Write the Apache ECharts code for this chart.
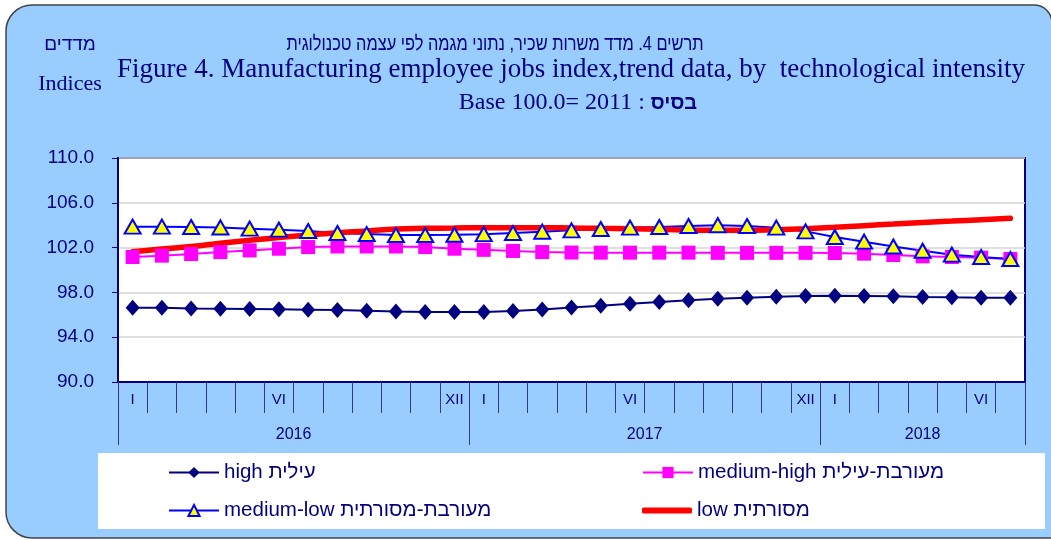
<!DOCTYPE html>
<html>
<head>
<meta charset="utf-8">
<script src="https://cdn.jsdelivr.net/npm/echarts@6/dist/echarts.min.js"></script>
<style>
  html, body { margin: 0; padding: 0; background: #fff; }
  #chart { width: 1051px; height: 540px; }
</style>
</head>
<body>
<div id="chart"></div>
<script>
// months Jan 2016 .. Jul 2018
const years = ['2016', '2017', '2018']
const monthsPerYear = [12, 12, 7]
const romans = ['I', 'II', 'III', 'IV', 'V', 'VI', 'VII', 'VIII', 'IX', 'X', 'XI', 'XII']
const shownMonths = ['I', 'VI', 'XII']
const yTicks = [90, 94, 98, 102, 106, 110]

const high = [96.63, 96.62, 96.56, 96.54, 96.52, 96.49, 96.46, 96.43, 96.37, 96.3, 96.26,
	96.25, 96.26, 96.33, 96.48, 96.66, 96.81, 96.99, 97.14, 97.29, 97.43, 97.53, 97.62,
	97.68, 97.7, 97.68, 97.65, 97.6, 97.56, 97.53, 97.53]
const mediumHigh = [101.16, 101.28, 101.43, 101.6, 101.75, 101.9, 102.05, 102.1, 102.1, 102.1,
	102.05, 101.9, 101.8, 101.7, 101.6, 101.56, 101.55, 101.55, 101.55, 101.55, 101.53, 101.53,
	101.53, 101.53, 101.52, 101.46, 101.34, 101.22, 101.16, 101.1, 100.98]
const mediumLow = [103.87, 103.87, 103.84, 103.8, 103.69, 103.6, 103.48, 103.3, 103.21, 103.12,
	103.12, 103.15, 103.2, 103.3, 103.42, 103.54, 103.66, 103.78, 103.84, 103.93, 104.0, 103.93,
	103.78, 103.45, 102.95, 102.53, 102.1, 101.72, 101.37, 101.16, 100.98]
const low = [101.63, 101.87, 102.1, 102.38, 102.65, 102.91, 103.12, 103.33, 103.48, 103.66,
	103.72, 103.75, 103.78, 103.78, 103.78, 103.75, 103.72, 103.69, 103.63, 103.57, 103.54,
	103.54, 103.6, 103.69, 103.81, 103.96, 104.1, 104.25, 104.37, 104.49, 104.61]

const seriesNames = ['high עילית', 'medium-high מעורבת-עילית', 'medium-low מעורבת-מסורתית', 'low מסורתית']

// category list + where the year blocks start/end
const categories = []
const yearBounds = [0]
years.forEach((y, yi) => {
	for (let m = 0; m < monthsPerYear[yi]; m++) categories.push(y + '-' + romans[m])
	yearBounds.push(categories.length)
})
const yearCenters = years.map((y, i) => (yearBounds[i] + yearBounds[i + 1]) / 2)

const navy = '#000080'
const cellLine = '#333399'
const serif = '"Liberation Serif", "DejaVu Serif", serif'
const sans = '"Liberation Sans", Arial, sans-serif'

const legendText = { color: navy, fontSize: 20.5, fontFamily: sans }
const legendAt = (name, left, top, extra) => Object.assign({
	data: [name], left, top, padding: 0, itemWidth: 50, itemHeight: 14,
	itemGap: 0, textStyle: legendText, selectedMode: false
}, extra)

const headText = (text, x, y, size, family, scaleX) => ({
	type: 'text', x, y, scaleX: scaleX || 1, silent: true,
	style: { text, fill: navy, font: size + 'px ' + (family || serif), align: 'center', verticalAlign: 'middle' }
})

const options = {
	animation: false,
	graphic: [
		{
			type: 'rect', z: -10, silent: true,
			shape: { x: 6, y: 5, width: 1046, height: 533, r: [26, 18, 0, 26] },
			style: { fill: '#99CCFF', stroke: '#444', lineWidth: 1.5 }
		},
		{
			type: 'rect', z: -9, silent: true,
			shape: { x: 98, y: 453, width: 947, height: 76 },
			style: { fill: '#fff' }
		},
		headText('תרשים 4. מדד משרות שכיר, נתוני מגמה לפי עצמה טכנולוגית', 495, 44, 20.5, sans, 0.8),
		headText('Figure 4. Manufacturing employee jobs index,trend data, by  technological intensity', 571, 70, 27),
		{
			type: 'text', x: 578, y: 103, silent: true,
			style: {
				text: '{a|Base 100.0= 2011 : }{b|בסיס}', align: 'center', verticalAlign: 'middle',
				rich: {
					a: { fill: navy, fontSize: 24, fontFamily: serif },
					b: { fill: navy, fontSize: 20, fontWeight: 'bold', fontFamily: sans }
				}
			}
		},
		headText('מדדים', 70, 45, 19, sans),
		headText('Indices', 70, 84, 22)
	],
	grid: {
		left: 118, right: 26, top: 158, bottom: 158,
		show: true, backgroundColor: '#fff', borderColor: navy, borderWidth: 2
	},
	legend: [
		legendAt(seriesNames[0], 168, 462),
		legendAt(seriesNames[2], 168, 500),
		legendAt(seriesNames[1], 642, 462),
		legendAt(seriesNames[3], 642, 500, { icon: 'roundRect', itemHeight: 6 })
	],
	xAxis: [
		{
			type: 'category',
			data: categories,
			boundaryGap: true,
			axisLine: { lineStyle: { color: navy, width: 2 } },
			axisTick: { show: true, interval: 0, length: 31, lineStyle: { color: cellLine, width: 1 } },
			axisLabel: {
				interval: 0, margin: 10, color: navy, fontSize: 15, fontFamily: sans,
				formatter: v => {
					const m = v.split('-')[1]
					return shownMonths.includes(m) ? m : ''
				}
			},
			splitLine: { show: false }
		},
		{
			type: 'value',
			position: 'bottom',
			min: 0,
			max: categories.length,
			axisLine: { show: false },
			axisTick: { show: true, customValues: yearBounds, length: 63, lineStyle: { color: cellLine, width: 1 } },
			axisLabel: {
				customValues: yearCenters, margin: 45, color: navy, fontSize: 16, fontFamily: sans,
				formatter: v => years[yearCenters.indexOf(v)] || ''
			},
			splitLine: { show: false }
		}
	],
	yAxis: {
		type: 'value',
		min: 90,
		max: 110,
		axisLine: { show: true, lineStyle: { color: navy, width: 2 } },
		axisTick: { show: true, customValues: yTicks, length: 6, lineStyle: { color: navy } },
		axisLabel: {
			customValues: yTicks, margin: 24, color: navy, fontSize: 19, fontFamily: sans,
			formatter: v => v.toFixed(1)
		},
		splitLine: { show: true, lineStyle: { color: '#d4d4d4', width: 1.5 } }
	},
	series: [
		{
			name: seriesNames[0], type: 'line', data: high,
			symbol: 'diamond', symbolSize: [14, 16],
			itemStyle: { color: navy },
			lineStyle: { color: navy, width: 2 }
		},
		{
			name: seriesNames[1], type: 'line', data: mediumHigh,
			symbol: 'rect', symbolSize: 14,
			itemStyle: { color: '#FF00FF' },
			lineStyle: { color: '#FF00FF', width: 2 }
		},
		{
			name: seriesNames[2], type: 'line', data: mediumLow,
			symbol: 'triangle', symbolSize: [16, 14],
			itemStyle: { color: '#FFFF00', borderColor: '#0000FF', borderWidth: 2 },
			lineStyle: { color: '#0000FF', width: 2 }
		},
		{
			name: seriesNames[3], type: 'line', data: low,
			symbol: 'none', smooth: true,
			itemStyle: { color: '#FF0000' },
			lineStyle: { color: '#FF0000', width: 5.5, cap: 'round' }
		}
	]
}

echarts.init(document.getElementById('chart')).setOption(options)
</script>
</body>
</html>
